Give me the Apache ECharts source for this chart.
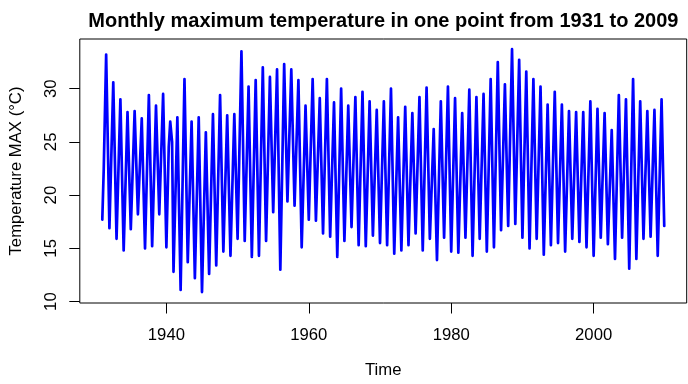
<!DOCTYPE html>
<html><head><meta charset="utf-8">
<script src="https://cdn.jsdelivr.net/npm/echarts@6/dist/echarts.min.js"></script>
<style>html,body{margin:0;padding:0;background:#fff}#c{width:688px;height:384px}</style>
</head><body><div id="c"></div>
<script>
// Monthly series: one winter trough and one summer peak per year
const firstYear = 1931;
const winterLows = [
  17.7,16.9,15.9,14.8,16.8,18.2,15.0,15.2,18.2,15.1,
  12.8,11.1,13.7,12.2,10.9,12.6,13.4,14.7,14.3,15.9,
  15.7,14.2,14.3,15.7,18.4,13.0,19.4,19.0,15.1,17.7,
  17.6,16.4,16.1,14.2,15.7,17.0,15.3,15.2,16.2,15.5,
  15.3,14.5,14.8,15.3,16.4,14.8,15.9,13.9,16.0,14.7,
  14.6,16.0,14.3,15.9,14.7,15.1,16.7,17.1,17.3,16.0,
  15.0,15.9,14.4,15.3,15.5,14.7,15.9,15.6,15.1,14.3,
  16.0,15.4,14.0,16.0,13.1,14.0,15.9,16.1,14.3
];
const summerHighs = [
  33.2,30.6,29.0,27.8,27.9,27.2,29.4,28.4,29.5,26.9,
  27.3,30.9,26.9,27.3,25.9,27.6,29.4,27.5,27.6,33.5,
  30.2,30.8,32.0,31.1,31.8,32.3,31.8,30.8,28.4,30.9,
  29.1,30.9,28.7,30.0,28.4,29.2,29.7,28.8,28.0,28.8,
  30.0,27.3,28.3,27.7,29.2,30.1,26.2,28.8,30.2,29.1,
  27.7,29.9,29.2,29.5,30.9,32.5,30.4,33.7,32.7,31.6,
  30.9,30.2,28.5,29.7,28.5,27.9,27.8,27.8,28.8,28.1,
  27.7,26.1,29.4,29.0,30.9,28.8,27.9,28.0,29.0
];
// a few extra readings where the curve visibly bends between extremes: [time, value]
const extraReadings = [[1931.2, 22.4], [1940.33, 24.5], [1940.8, 25.0]];
const lastValue = 17.1;          // December 2009
const lastTime = 2009 + 11 / 12;
const summerOffset = 0.54;       // peak month position within the year
const xTicks = [1940, 1960, 1980, 2000];
const yTicks = [10, 15, 20, 25, 30];

const points = [];
winterLows.forEach((lo, i) => {
  const yr = firstYear + i;
  points.push([yr, lo]);
  points.push([yr + summerOffset, summerHighs[i]]);
});
points.push([lastTime, lastValue]);
extraReadings.forEach(p => points.push(p));
points.sort((a, b) => a[0] - b[0]);

const FONT = 'Liberation Sans, Arial, Helvetica, sans-serif';
const chart = echarts.init(document.getElementById('c'), null, {renderer: 'canvas'});
chart.setOption({
  animation: false,
  backgroundColor: '#fff',
  title: {
    text: 'Monthly maximum temperature in one point from 1931 to 2009',
    left: 83.3, top: 6,
    textStyle: {fontFamily: FONT, fontWeight: 'bold', fontSize: 20, color: '#000'}
  },
  grid: {
    left: 79, right: 1.3, top: 39, bottom: 77.3,
    show: true, borderColor: '#000', borderWidth: 1, backgroundColor: 'transparent'
  },
  xAxis: {
    type: 'value', min: 1927.84, max: 2013.07,
    name: 'Time', nameLocation: 'middle', nameGap: 59,
    nameTextStyle: {fontFamily: FONT, fontSize: 16.7, color: '#000'},
    axisLine: {show: false},
    splitLine: {show: false},
    axisTick: {show: true, length: 10.5, customValues: xTicks, lineStyle: {color: '#000', width: 1}},
    axisLabel: {customValues: xTicks, margin: 23.5, formatter: v => String(v),
      fontFamily: FONT, fontSize: 16.7, color: '#000'}
  },
  yAxis: {
    type: 'value', min: 9.87, max: 34.66,
    name: 'Temperature MAX (°C)', nameLocation: 'middle', nameGap: 54.8, nameRotate: 90,
    nameTextStyle: {fontFamily: FONT, fontSize: 16.7, color: '#000'},
    axisLine: {show: false},
    splitLine: {show: false},
    axisTick: {show: true, length: 10.5, customValues: yTicks, lineStyle: {color: '#000', width: 1}},
    axisLabel: {customValues: yTicks, rotate: 90, margin: 20, align: 'center', verticalAlign: 'bottom',
      formatter: v => String(v), fontFamily: FONT, fontSize: 16.7, color: '#000'}
  },
  series: [{
    type: 'line', data: points, showSymbol: false, symbol: 'none',
    lineStyle: {color: '#0000FF', width: 2.7, join: 'round', cap: 'round'},
    clip: true
  }]
});
</script></body></html>
